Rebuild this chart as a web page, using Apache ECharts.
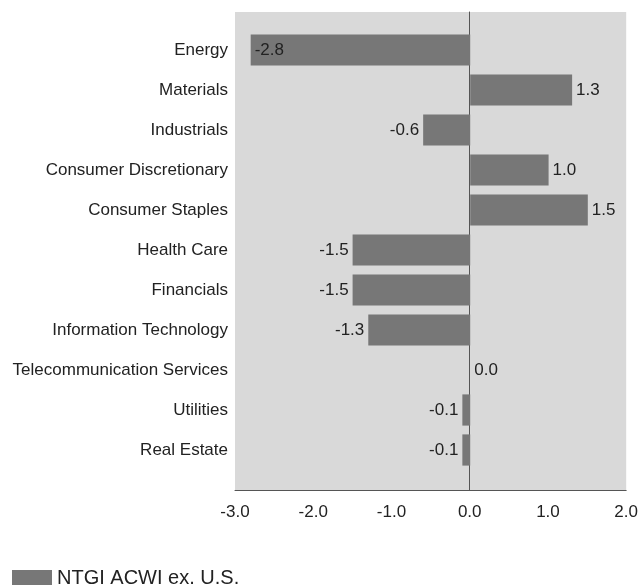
<!DOCTYPE html>
<html>
<head>
<meta charset="utf-8">
<script src="https://cdn.jsdelivr.net/npm/echarts@6/dist/echarts.min.js"></script>
<style>html,body{margin:0;padding:0;background:#fff;}#c{width:641px;height:585px;}</style>
</head>
<body>
<div id="c"></div>
<script>
var categories = ["Energy","Materials","Industrials","Consumer Discretionary","Consumer Staples","Health Care","Financials","Information Technology","Telecommunication Services","Utilities","Real Estate"];
var values = [-2.8, 1.3, -0.6, 1.0, 1.5, -1.5, -1.5, -1.3, 0.0, -0.1, -0.1];
var xTicks = [-3.0, -2.0, -1.0, 0.0, 1.0, 2.0];
var seriesName = "NTGI ACWI ex. U.S.";

var FONT = "'Liberation Sans', Arial, sans-serif";
var xMin = xTicks[0], xMax = xTicks[xTicks.length - 1];

var data = values.map(function (v, i) {
  var pos = v < 0 ? 'left' : 'right';
  if (v <= -2.5) pos = 'insideLeft';
  return { value: v, label: { position: pos } };
});

var chart = echarts.init(document.getElementById('c'), null, { renderer: 'canvas' });
chart.setOption({
  animation: false,
  backgroundColor: '#ffffff',
  legend: {
    left: 7, top: 563,
    itemWidth: 40, itemHeight: 16, itemGap: 10,
    icon: 'rect',
    textStyle: { fontFamily: FONT, fontSize: 20, color: '#222' },
    data: [seriesName]
  },
  grid: [
    { left: 235, right: 14, top: 12, bottom: 95, show: true, backgroundColor: '#d9d9d9', borderWidth: 0, containLabel: false },
    { left: 235, right: 14, top: 30, bottom: 115, containLabel: false }
  ],
  xAxis: [
    {
      gridIndex: 0, type: 'value', min: xMin, max: xMax, interval: 1,
      axisLine: { show: true, onZero: false, lineStyle: { color: '#555', width: 1 } },
      axisTick: { show: false },
      splitLine: { show: false },
      axisLabel: { margin: 14, fontFamily: FONT, fontSize: 17, color: '#222', formatter: function (v) { return v.toFixed(1); } }
    },
    {
      gridIndex: 1, type: 'value', min: xMin, max: xMax, interval: 1, show: false
    }
  ],
  yAxis: [
    {
      gridIndex: 0, type: 'value', min: 0, max: 1,
      axisLine: { show: true, onZero: true, lineStyle: { color: '#555', width: 1 } },
      axisTick: { show: false }, axisLabel: { show: false }, splitLine: { show: false }
    },
    {
      gridIndex: 1, type: 'category', inverse: true, data: categories,
      axisLine: { show: false }, axisTick: { show: false }, splitLine: { show: false },
      axisLabel: { margin: 7, interval: 0, fontFamily: FONT, fontSize: 17, color: '#222' }
    }
  ],
  series: [{
    name: seriesName,
    type: 'bar',
    xAxisIndex: 1, yAxisIndex: 1,
    barCategoryGap: '22%',
    itemStyle: { color: '#777777' },
    label: {
      show: true, distance: 4,
      fontFamily: FONT, fontSize: 17, color: '#222',
      formatter: function (p) { return p.value.toFixed(1); }
    },
    data: data
  }]
});
</script>
</body>
</html>
